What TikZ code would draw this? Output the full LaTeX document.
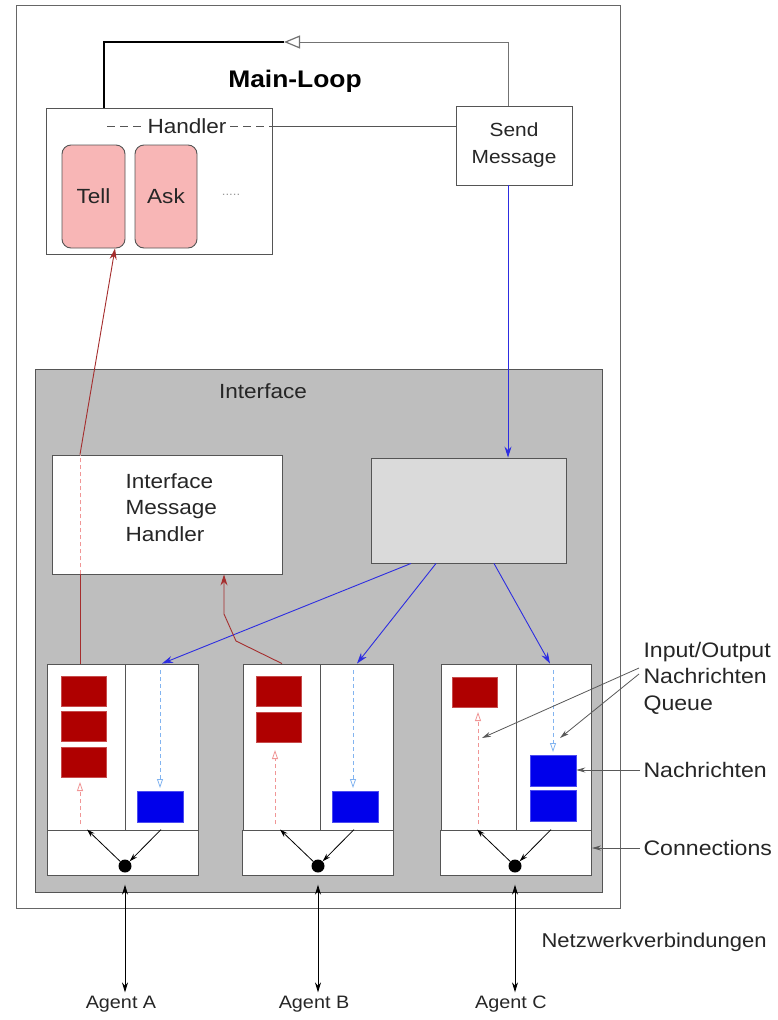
\documentclass[tikz,border=0pt]{standalone}
\usepackage{fontspec}
\setmainfont{Liberation Sans}[FakeStretch=1.1]
\usetikzlibrary{arrows.meta,calc}
\definecolor{frame}{RGB}{85,85,85}
\definecolor{ifgray}{RGB}{190,190,190}
\definecolor{distgray}{RGB}{218,218,218}
\definecolor{pinkfill}{RGB}{248,182,182}
\definecolor{dred}{RGB}{175,0,0}
\definecolor{dblue}{RGB}{0,0,235}
\definecolor{lred}{RGB}{165,45,45}
\definecolor{lblue}{RGB}{45,45,225}
\definecolor{pinkdash}{RGB}{240,150,150}
\definecolor{bluedash}{RGB}{130,180,240}
\tikzset{
  x=1pt,y=-1pt,
  box/.style={draw=frame,line width=0.9pt,fill=white,inner sep=0pt,minimum width=#1},
  hgt/.style={minimum height=#1},
  redblk/.style={fill=dred,draw=dred!70!white,line width=0.6pt,minimum width=45,minimum height=30,inner sep=0pt},
  blueblk/.style={fill=dblue,draw=dblue!70!white,line width=0.6pt,minimum width=46,minimum height=31,inner sep=0pt},
  txt/.style={font=\fontsize{20.5}{26.5}\selectfont,text=black!85},
  bluearr/.style={draw=lblue,line width=0.9pt,-{Stealth[length=11pt,width=7pt]}},
  redarr/.style={draw=lred,line width=0.9pt,-{Stealth[length=11pt,width=7pt]}},
  pinkup/.style={draw=pinkdash,dash pattern=on 4pt off 3pt,line width=0.8pt,-{Triangle[open,length=9pt,width=6pt]}},
  bluedown/.style={draw=bluedash,dash pattern=on 4pt off 3pt,line width=0.8pt,-{Triangle[open,length=9pt,width=6pt]}},
  conn/.style={draw=black,line width=0.8pt},
  connarr/.style={conn,-{Stealth[length=8pt,width=5pt]}},
  agentarr/.style={draw=black,line width=0.9pt,{Stealth[length=10pt,width=6pt]}-{Stealth[length=10pt,width=6pt]}},
  labarr/.style={draw=black!65,line width=0.8pt,-{Stealth[length=9pt,width=5pt]}},
  rlab/.style={font=\fontsize{21}{26.5}\selectfont,text=black!85},
  dotn/.style={circle,fill=black,minimum size=13pt,inner sep=0pt}
}
\begin{document}
\begin{tikzpicture}
\useasboundingbox (0,0) rectangle (778,1020);
% outer frame
\node[box=604,hgt=903,draw=black!60] (outer) at (318,456.5) {};
% handler
\node[box=226,hgt=146] (handler) at (159,181) {};
\node[txt] (hlabel) at (187,126) {Handler};
\draw[frame,line width=0.9pt,dash pattern=on 8pt off 5pt] (107,126) -- (hlabel.west);
\draw[frame,line width=0.9pt,dash pattern=on 8pt off 5pt] (hlabel.east) -- (handler.east |- hlabel.east);
\node[box=63,hgt=103,fill=pinkfill,rounded corners=9pt] (tell) at (93.5,196.5) {};
\node[txt] at (tell.center) {Tell};
\node[box=62,hgt=103,fill=pinkfill,rounded corners=9pt] (ask) at (166,196.5) {};
\node[txt] at (ask.center) {Ask};
\node[font=\fontsize{12}{14}\selectfont,text=black!40] (dots) at (231,195) {.....};
% send message
\node[box=116,hgt=79,font=\fontsize{19}{27}\selectfont,text=black!85,align=center] (send) at (514,145.5) {Send\\Message};
% main loop
\coordinate (hin) at (104,108);
\coordinate (sout) at (508,106);
\coordinate (mltip) at (284,42);
\draw[black!55,line width=0.9pt,-{Triangle[open,length=16pt,width=13pt,line width=1.2pt]}] (sout) |- (mltip);
\draw[black,line width=1.4pt] (mltip) -| (hin);
\node[font=\fontsize{24}{28}\selectfont\bfseries] (ml) at (295,81) {Main-Loop};
% handler - send line
\draw[frame,line width=0.9pt] (handler.east |- 0,126) -- (send.west |- 0,126);
% interface
\node[box=567,hgt=523,fill=ifgray] (iface) at (318.5,630.5) {};
\node[txt] (iflabel) at (263,391) {Interface};
\node[box=230,hgt=119] (imh) at (167,514.5) {};
\node[txt,align=left,anchor=north west] (imhtext) at (122,470) {Interface\\Message\\Handler};
\node[box=195,hgt=105,fill=distgray] (dist) at (468.5,510.5) {};
% queues
\foreach \n/\l/\lw/\r/\rw/\b in {A/86/78/161.5/73/122.5, B/281.5/77/356.5/73/318, C/478.5/75/553.5/75/516}{
  \node[box=\lw,hgt=166] (q\n l) at (\l,747) {};
  \node[box=\rw,hgt=166] (q\n r) at (\r,747) {};
  \node[box=151,hgt=45] (q\n b) at (\b,852.5) {};
}
% red blocks
\node[redblk] (rA1) at (83.5,691) {};
\node[redblk] (rA2) at (83.5,726.5) {};
\node[redblk] (rA3) at (83.5,762) {};
\node[redblk] (rB1) at (278.5,691.5) {};
\node[redblk] (rB2) at (278.5,727) {};
\node[redblk] (rC1) at (475,692.5) {};
% blue blocks
\node[blueblk] (bA1) at (160,806.5) {};
\node[blueblk] (bB1) at (355.5,806.5) {};
\node[blueblk] (bC1) at (553,771) {};
\node[blueblk] (bC2) at (553,805.5) {};
% dashed queue arrows
\draw[pinkup] (80,824) -- (80,782);
\draw[pinkup] (275,824) -- (275,750);
\draw[pinkup] (478,824) -- (478,712);
\draw[bluedown] (160,670) -- (160,788);
\draw[bluedown] (353,670) -- (353,788);
\draw[bluedown] (553,670) -- (553,752);
% blue arrows
\draw[bluearr] (send.south -| sout) -- (dist.north -| sout);
\draw[bluearr] (dist.south -| 411,0) -- (qAr.north -| 162,0);
\draw[bluearr] (dist.south -| 436,0) -- (qBr.north -| 357,0);
\draw[bluearr] (dist.south -| 494,0) -- (qCr.north -| 550,0);
% red arrows
\draw[lred,line width=0.9pt] (qAl.north -| 80,0) -- (imh.south -| 80,0);
\draw[pinkdash,line width=1pt,dash pattern=on 4pt off 3pt] (imh.south -| 80,0) -- (imh.north -| 80,0);
\draw[redarr] (imh.north -| 80,0) -- (tell.south -| 115,0);
\draw[redarr] (qBl.north -| 282,0) -- (236,641) -- (224,614) -- (imh.south -| 224,0);
% connections, dots and agents
\foreach \n/\x/\ag in {A/125/Agent A, B/318/Agent B, C/515/Agent C}{
  \node[dotn] (dot\n) at (\x,866) {};
  \draw[connarr] (dot\n) -- (q\n b.north -| \x-38,0);
  \draw[connarr] (q\n b.north -| \x+36,0) -- (dot\n);
  \node[font=\fontsize{18}{21}\selectfont,text=black!85] (ag\n) at (\x-4,1004) {\ag};
  \draw[agentarr] (dot\n.south) ++(0,12) -- (ag\n.north -| dot\n.south);
}
% right labels
\node[rlab,align=left,anchor=west] (iolab) at (640,678) {Input/Output\\Nachrichten\\Queue};
\coordinate (ioa) at (639,668);
\coordinate (iob) at (639,674);
\draw[labarr] (ioa) -- (482,738);
\draw[labarr] (iob) -- (560,738);
\node[rlab,anchor=west] (nlab) at (640,770) {Nachrichten};
\draw[labarr] (nlab.west) -- (bC1.east |- nlab.west);
\node[rlab,anchor=west] (clab) at (640,848) {Connections};
\draw[labarr] (clab.west) -- (qCb.east |- clab.west);
\node[rlab,anchor=west,font=\fontsize{20}{24}\selectfont] (netlab) at (538,942) {Netzwerkverbindungen};
\end{tikzpicture}
\end{document}
